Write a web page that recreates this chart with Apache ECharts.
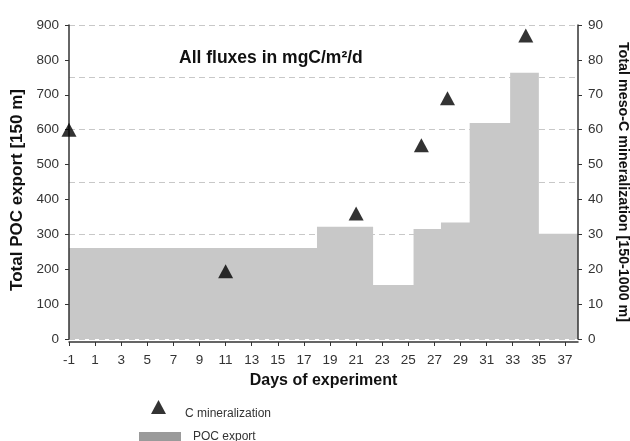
<!DOCTYPE html>
<html>
<head>
<meta charset="utf-8">
<script src="https://cdn.jsdelivr.net/npm/echarts@6/dist/echarts.min.js"></script>
<style>html,body{margin:0;padding:0;background:#fff}#c{width:630px;height:441px}</style>
</head>
<body>
<div id="c"></div>
<script>
// POC export steps: left edges (days) and values (mgC/m2/d), last point closes the final step
const pocEdges = [-1, 18, 22.3, 25.4, 27.5, 29.7, 32.8, 35, 38];
const pocValues = [261, 322, 155, 315, 334, 619, 763, 302, 302];
// C mineralization points
const minDays = [-1, 11, 21, 26, 28, 34];
const minValues = [60, 19.4, 36, 55.5, 69, 87];
// tick labels of the day axis
const dayTicks = [-1, 1, 3, 5, 7, 9, 11, 13, 15, 17, 19, 21, 23, 25, 27, 29, 31, 33, 35, 37];

const FONT = '"Liberation Sans", Arial, sans-serif';
const chart = echarts.init(document.getElementById('c'), null, {renderer: 'canvas'});
const labelStyle = {color: '#333', fontSize: 13.5, fontFamily: FONT};
const nameStyle = {color: '#111', fontWeight: 'bold', fontFamily: FONT};

chart.setOption({
  animation: false,
  grid: {left: 69, right: 52, top: 25, bottom: 102, outerBoundsMode: 'none', containLabel: false},
  title: {
    text: 'All fluxes in mgC/m²/d',
    left: 174, top: 44,
    textStyle: {fontSize: 17.5, fontWeight: 'bold', color: '#111', fontFamily: FONT}
  },
  legend: [
    {
      data: ['C mineralization'], left: 146, top: 395, icon: 'triangle',
      itemWidth: 15, itemHeight: 14,
      formatter: '{s|}{t|{name}}',
      textStyle: {
        fontSize: 12, color: '#333', fontFamily: FONT, padding: [0, 0, 0, 14],
        rich: {
          s: {height: 26, width: 0},
          t: {fontSize: 12, color: '#333', fontFamily: FONT, verticalAlign: 'bottom', lineHeight: 14}
        }
      }
    },
    {
      data: [{name: 'POC export', itemStyle: {color: '#9a9a9a'}}], left: 134, top: 426, icon: 'rect',
      itemWidth: 42, itemHeight: 10,
      textStyle: {fontSize: 12, color: '#333', fontFamily: FONT, padding: [0, 0, 0, 7]}
    }
  ],
  xAxis: {
    type: 'value', min: -1, max: 38, offset: 3, z: 5,
    name: 'Days of experiment', nameLocation: 'middle', nameGap: 31,
    nameTextStyle: Object.assign({fontSize: 16}, nameStyle),
    axisLine: {show: true, onZero: false, lineStyle: {color: '#333', width: 1.5}},
    axisTick: {show: true, length: 4, customValues: dayTicks, lineStyle: {color: '#333'}},
    axisLabel: Object.assign({customValues: dayTicks, margin: 11}, labelStyle),
    splitLine: {show: false}
  },
  yAxis: [
    {
      type: 'value', min: 0, max: 900, interval: 100, position: 'left', offset: 0, z: 5,
      name: 'Total POC export [150 m]', nameLocation: 'middle', nameGap: 18,
      nameTextStyle: Object.assign({fontSize: 17, padding: [0, 16, 0, 0]}, nameStyle),
      axisLine: {show: true, onZero: false, lineStyle: {color: '#333', width: 1.5}},
      axisTick: {show: true, length: 4, lineStyle: {color: '#333'}},
      axisLabel: Object.assign({margin: 10}, labelStyle),
      splitLine: {show: false}
    },
    {
      type: 'value', min: 0, max: 90, interval: 10, position: 'right', offset: 0, z: 5,
      name: 'Total meso-C mineralization [150-1000 m]', nameLocation: 'middle', nameGap: 38, nameRotate: -90,
      nameTextStyle: Object.assign({fontSize: 14.3}, nameStyle),
      axisLine: {show: true, onZero: false, lineStyle: {color: '#333', width: 1.5}},
      axisTick: {show: true, length: 4, lineStyle: {color: '#333'}},
      axisLabel: Object.assign({margin: 10}, labelStyle),
      splitLine: {show: false}
    },
    {
      type: 'value', min: 0, max: 900, interval: 150, position: 'left', offset: 0, z: 0,
      axisLine: {show: false}, axisTick: {show: false}, axisLabel: {show: false},
      splitLine: {show: true, lineStyle: {color: '#c8c8c8', type: [6, 4], width: 1}}
    }
  ],
  series: [
    {
      name: 'POC export', type: 'line', step: 'end', yAxisIndex: 0,
      data: pocEdges.map((d, i) => [d, pocValues[i]]),
      symbol: 'none', lineStyle: {width: 0, color: '#c8c8c8'},
      itemStyle: {color: '#c8c8c8'},
      areaStyle: {color: '#c8c8c8', opacity: 1}, z: 2
    },
    {
      name: 'C mineralization', type: 'scatter', yAxisIndex: 1,
      data: minDays.map((d, i) => [d, minValues[i]]),
      symbol: 'triangle', symbolSize: [15, 14],
      itemStyle: {color: '#000'}, z: 6
    }
  ]
});
</script>
</body>
</html>
